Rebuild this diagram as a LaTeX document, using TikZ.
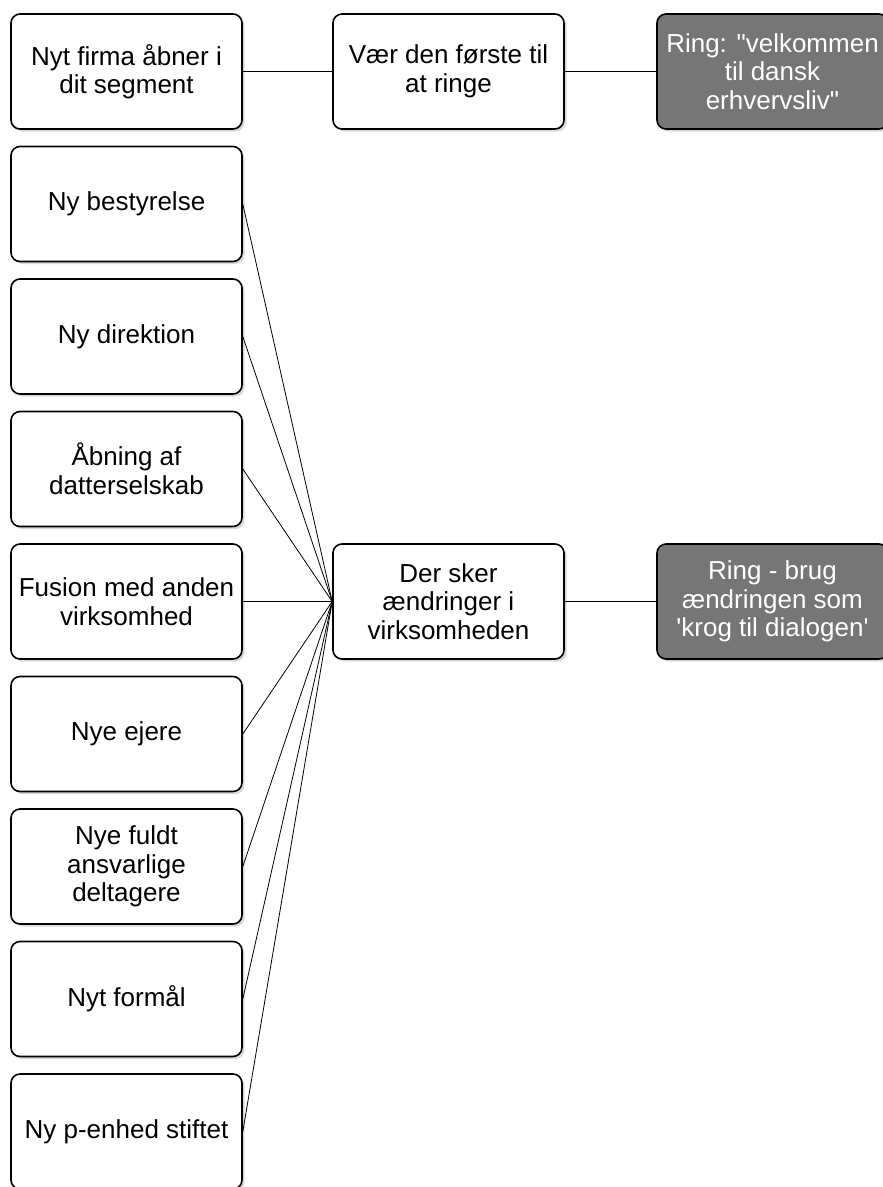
\documentclass[tikz,border=0pt]{standalone}
\usepackage{fontspec}
\setmainfont{Liberation Sans}
\usetikzlibrary{shadows}
\definecolor{callgray}{RGB}{118,118,118}

\begin{document}
\begin{tikzpicture}[x=1pt,y=-1pt]
        % Define styles for shapes
        \tikzstyle{event} = [draw, line width=1.6pt, rounded corners=9pt, fill=white, minimum width=231pt, minimum height=115pt, align=center, inner sep=1pt, font=\fontsize{26}{28.5}\selectfont, drop shadow={shadow xshift=2.5pt, shadow yshift=-2.5pt, opacity=0.3}]
        \tikzstyle{call} = [event, fill=callgray, text=white]
        \tikzstyle{link} = [line width=0.8pt]
        \useasboundingbox (0,0) rectangle (883,1187);
        % Draw shapes
        \node[event] (firma) at (126.5, 71.5) {Nyt firma åbner i\\dit segment};
        \node[event] (foerst) at (448.5, 71.5) {Vær den første til\\at ringe};
        \node[call] (velkommen) at (772.5, 71.5) {Ring: \textquotedbl velkommen\\til dansk\\erhvervsliv\textquotedbl};

        \node[event] (bestyrelse) at (126.5, 204) {Ny bestyrelse};
        \node[event] (direktion) at (126.5, 336.5) {Ny direktion};
        \node[event] (datter) at (126.5, 469) {Åbning af\\datterselskab};
        \node[event] (fusion) at (126.5, 601.5) {Fusion med anden\\virksomhed};
        \node[event] (ejere) at (126.5, 734) {Nye ejere};
        \node[event] (deltagere) at (126.5, 866.5) {Nye fuldt\\ansvarlige\\deltagere};
        \node[event] (formaal) at (126.5, 999) {Nyt formål};
        \node[event] (penhed) at (126.5, 1131.5) {Ny p-enhed stiftet};

        \node[event] (aendring) at (448.5, 601.5) {Der sker\\ændringer i\\virksomheden};
        \node[call] (krog) at (772.5, 601.5) {Ring - brug\\ændringen som\\\textquotesingle krog til dialogen\textquotesingle};

        % Draw lines
        \draw[link] (firma) -- (foerst);
        \draw[link] (foerst) -- (velkommen);
        \draw[link] (bestyrelse.east) -- (aendring.west);
        \draw[link] (direktion.east) -- (aendring.west);
        \draw[link] (datter.east) -- (aendring.west);
        \draw[link] (fusion.east) -- (aendring.west);
        \draw[link] (ejere.east) -- (aendring.west);
        \draw[link] (deltagere.east) -- (aendring.west);
        \draw[link] (formaal.east) -- (aendring.west);
        \draw[link] (penhed.east) -- (aendring.west);
        \draw[link] (aendring) -- (krog);
    \end{tikzpicture}
\end{document}
